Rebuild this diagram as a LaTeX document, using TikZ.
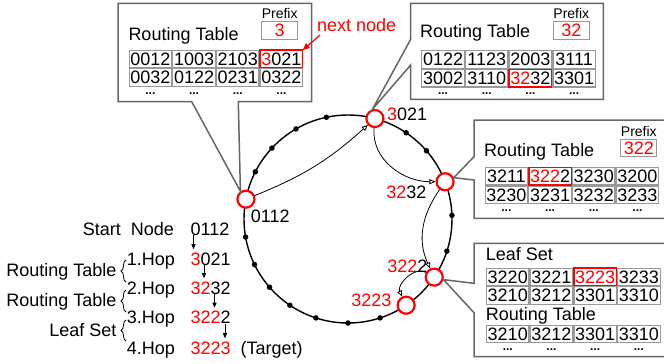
\documentclass[tikz,border=0pt]{standalone}
\usepackage{fontspec}
\setmainfont{Liberation Sans}
\usetikzlibrary{arrows.meta, positioning, calc, matrix, decorations.pathreplacing}

\tikzset{
	every node/.style={font=\fontsize{18}{20}\selectfont},
	lbl/.style={inner sep=0pt},
	headtxt/.style={inner sep=0pt, anchor=base west},
	hop/.style={circle, draw=red, line width=2.2pt, fill=white, minimum size=17pt, inner sep=0pt},
	ringdot/.style={circle, fill=black, inner sep=0pt, minimum size=5.5pt},
	callout/.style={draw=black!60, line width=1.5pt, fill=white},
	cell/.style={draw=black!40, line width=1.2pt, minimum width=42.5pt, minimum height=17.5pt, inner sep=0pt, outer sep=0pt},
	tab/.style={matrix of nodes, inner sep=0pt, nodes={cell}, column sep=0pt, row sep=0pt, anchor=north west},
	hlbox/.style={draw=red, line width=1.5pt},
	more/.style={inner sep=0pt, font=\bfseries\fontsize{12}{12}\selectfont},
	prefixbox/.style={draw=black!40, line width=1.2pt, minimum width=36pt, minimum height=17.5pt, inner sep=0pt, text=red},
	prefixtxt/.style={inner sep=0pt, font=\fontsize{14}{16}\selectfont},
	link/.style={line width=0.8pt, -{Triangle[open, length=6pt, width=5pt]}},
	hoparr/.style={line width=0.8pt, -{Triangle[length=5pt, width=4pt]}, shorten >=3pt},
	grp/.style={line width=0.8pt, decorate, decoration={brace, amplitude=5pt}},
}

\begin{document}
\begin{tikzpicture}[x=1pt, y=-1pt]
	\useasboundingbox (0,0) rectangle (664,364);
	% ring
	\coordinate (c) at (348,219);
	\draw[line width=1.4pt] (c) circle[radius=104pt];
	\foreach \a in {102,120,137,153,190,206,221,236,252,270,288,-18,2,41,56}
		\node[ringdot] at ($(c)+(\a:104pt)$) {};
	\node[hop] (n0) at ($(c)+(169:104pt)$) {};
	\node[hop] (n1) at ($(c)+(75:104pt)$) {};
	\node[hop] (n2) at ($(c)+(21:104pt)$) {};
	\node[hop] (n3) at ($(c)+(-34:104pt)$) {};
	\node[hop] (n4) at ($(c)+(-56:104pt)$) {};
	\node[lbl, below right=4pt and -2pt of n0] (l0) {0112};
	\node[lbl, right=2.5pt of n1, yshift=4pt] (l1) {\textcolor{red}{3}021};
	\node[lbl, left=9pt of n2, yshift=-11pt] (l2) {\textcolor{red}{32}32};
	\node[lbl, left=-3pt of n3, yshift=10.5pt] (l3) {\textcolor{red}{322}2};
	\node[lbl, left=5pt of n4, yshift=5pt] (l4) {\textcolor{red}{3223}};
	\draw[link] (n0) to[bend right=10] (n1);
	\draw[link] (n1) to[out=-95, in=180] (n2);
	\draw[link] (n2) to[out=235, in=115] (n3);
	\draw[link] (n3) to[out=150, in=115] (n4);

	% box at 0112
	\draw[callout] (118,3.3) -- (311.7,3.3) -- (311.7,101.7) -- (238.3,101.7) -- (n0.125) -- (191.7,101.7) -- (118,101.7) -- cycle;
	\node[headtxt] (r1) at (128.3,40) {Routing Table};
	\node[prefixbox] (p1) at (279.7,30.5) {3};
	\node[prefixtxt, above=2pt of p1] {Prefix};
	\matrix[tab] (t1) at (128.3,49.3) {
		0012 & 1003 & 2103 & \textcolor{red}{3}021 \\
		0032 & 0122 & 0231 & 0322 \\
	};
	\draw[hlbox] (t1-1-4.north west) rectangle (t1-1-4.south east);
	\foreach \k in {1,...,4}
		\node[more, below=6pt of t1-2-\k] {...};
	\node[lbl, text=red, anchor=base west] (nx) at (317,31.7) {next node};
	\draw[red, line width=1.2pt, -{Triangle[length=7pt, width=6pt]}] ([xshift=3pt, yshift=-3pt]nx.south west) -- (t1-1-4.north east);

	% box at 3021
	\draw[callout] (410.7,3.3) -- (603.3,3.3) -- (603.3,99.3) -- (410.7,99.3) -- (410.7,65) -- (n1.105) -- (410.7,39.3) -- cycle;
	\node[headtxt] (r2) at (420,37.7) {Routing Table};
	\node[prefixbox] (p2) at (571.3,30.5) {32};
	\node[prefixtxt, above=2pt of p2] {Prefix};
	\matrix[tab] (t2) at (421,50) {
		0122 & 1123 & 2003 & 3111 \\
		3002 & 3110 & \textcolor{red}{32}32 & 3301 \\
	};
	\draw[hlbox] (t2-2-3.north west) rectangle (t2-2-3.south east);
	\foreach \k in {1,...,4}
		\node[more, below=6pt of t2-2-\k] {...};

	% box at 3232
	\draw[callout] (474,120) -- (668,120) -- (668,218.3) -- (474,218.3) -- (474,180) -- (n2.25) -- (474,156.7) -- cycle;
	\node[headtxt] (r3) at (484,156.7) {Routing Table};
	\node[prefixbox] (p3) at (638.8,148) {322};
	\node[prefixtxt, above=2pt of p3] {Prefix};
	\matrix[tab] (t3) at (484.3,166.7) {
		3211 & \textcolor{red}{322}2 & 3230 & 3200 \\
		3230 & 3231 & 3232 & 3233 \\
	};
	\draw[hlbox] (t3-1-2.north west) rectangle (t3-1-2.south east);
	\foreach \k in {1,...,4}
		\node[more, below=6pt of t3-2-\k] {...};

	% box at 3222
	\draw[callout] (474,243.3) -- (668,243.3) -- (668,356.7) -- (474,356.7) -- (474,312.7) -- (n3.-15) -- (474,283.3) -- cycle;
	\node[headtxt] (r4) at (485.7,260.7) {Leaf Set};
	\matrix[tab] (t4) at (485.7,267.3) {
		3220 & 3221 & \textcolor{red}{3223} & 3233 \\
		3210 & 3212 & 3301 & 3310 \\
	};
	\draw[hlbox] (t4-1-3.north west) rectangle (t4-1-3.south east);
	\node[headtxt] (r5) at (485.7,320.7) {Routing Table};
	\matrix[tab] (t5) at (485.7,324.3) {
		3210 & 3212 & 3301 & 3310 \\
	};
	\foreach \k in {1,...,4}
		\node[more, below=6pt of t5-1-\k] {...};

	% hops
	\node[lbl, anchor=base east] (st) at (174,235) {Start\ \ Node};
	\node[lbl, anchor=base west] (s0) at (190.5,235) {0112};
	\node[lbl, anchor=base east] (h1) at (175,265) {1.Hop};
	\node[lbl, anchor=base west] (s1) at (190.5,265) {\textcolor{red}{3}021};
	\node[lbl, anchor=base east] (h2) at (175,294) {2.Hop};
	\node[lbl, anchor=base west] (s2) at (190.5,294) {\textcolor{red}{32}32};
	\node[lbl, anchor=base east] (h3) at (175,323.5) {3.Hop};
	\node[lbl, anchor=base west] (s3) at (190.5,323.5) {\textcolor{red}{322}2};
	\node[lbl, anchor=base east] (h4) at (175,354) {4.Hop};
	\node[lbl, anchor=base west] (s4) at (190.5,354) {\textcolor{red}{3223}};
	\node[lbl, anchor=base west] (tg) at ([xshift=9.5pt]s4.base east) {(Target)};
	\foreach \a/\b/\x in {s0/s1/3,s1/s2/13.5,s2/s3/24,s3/s4/34.5}
		\draw[hoparr] ([xshift=\x pt]\a.south west) -- ([xshift=\x pt]\b.north west);
	\draw[grp] (126,282) -- (126,260);
	\draw[grp] (126,312) -- (126,290);
	\draw[grp] (126,341) -- (126,320);
	\node[lbl, anchor=base east] (g1) at (116.7,276.7) {Routing Table};
	\node[lbl, anchor=base east] (g2) at (116.7,306.7) {Routing Table};
	\node[lbl, anchor=base east] (g3) at (116.7,336.7) {Leaf Set};
\end{tikzpicture}
\end{document}
